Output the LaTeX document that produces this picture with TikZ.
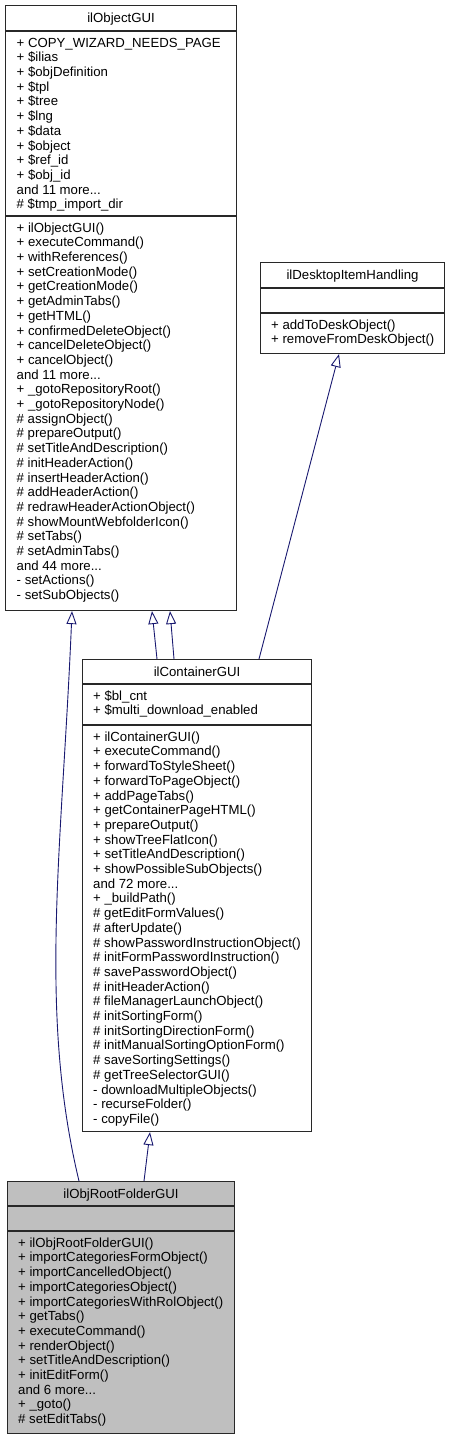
\documentclass[tikz,border=0pt]{standalone}
\usepackage{fontspec}
\setmainfont{Liberation Sans}
\usetikzlibrary{arrows.meta}
\definecolor{edgeblue}{RGB}{25,25,112}
\definecolor{boxline}{RGB}{40,40,40}
\definecolor{rootgrey}{RGB}{191,191,191}
\newcommand{\memfont}{\fontsize{13.2}{14.7}\selectfont}

\begin{document}
\begin{tikzpicture}[x=1pt,y=-1pt,
  cls/.style={draw=boxline,line width=1.1pt,anchor=north west,inner sep=0pt},
  clsname/.style={anchor=base,inner sep=0pt,font=\memfont},
  member/.style={anchor=north west,inner sep=0pt,align=left,font=\memfont},
  divider/.style={draw=boxline,line width=1.1pt},
  inherit/.style={draw=edgeblue,line width=0.9pt,-{Triangle[open,fill=white,length=13pt,width=10pt]}}]
\useasboundingbox (0,0) rectangle (450,1439);

\node[cls,minimum width=231pt,minimum height=605pt] (obj) at (5,5) {};
\node[cls,minimum width=184pt,minimum height=91pt] (desk) at (260,262) {};
\node[cls,minimum width=229pt,minimum height=472pt] (cont) at (82,659) {};
\node[cls,fill=rootgrey,minimum width=227pt,minimum height=252pt] (root) at (7,1181) {};

\draw[divider] (obj.west |- 0,31) -- (obj.east |- 0,31);
\draw[divider] (obj.west |- 0,216) -- (obj.east |- 0,216);
\draw[divider] (desk.west |- 0,288) -- (desk.east |- 0,288);
\draw[divider] (desk.west |- 0,313) -- (desk.east |- 0,313);
\draw[divider] (cont.west |- 0,684) -- (cont.east |- 0,684);
\draw[divider] (cont.west |- 0,725) -- (cont.east |- 0,725);
\draw[divider] (root.west |- 0,1206) -- (root.east |- 0,1206);
\draw[divider] (root.west |- 0,1231) -- (root.east |- 0,1231);

\node[clsname] (obj-name) at (obj.north |- 0,22.7) {ilObjectGUI};
\node[member] (obj-attr) at (16.5,36.7) {\strut + COPY\_WIZARD\_NEEDS\_PAGE\\
+ \$ilias\\
+ \$objDefinition\\
+ \$tpl\\
+ \$tree\\
+ \$lng\\
+ \$data\\
+ \$object\\
+ \$ref\_id\\
+ \$obj\_id\\
and 11 more...\\
\# \$tmp\_import\_dir};
\node[member] (obj-meth) at (16.5,221.7) {\strut + ilObjectGUI()\\
+ executeCommand()\\
+ withReferences()\\
+ setCreationMode()\\
+ getCreationMode()\\
+ getAdminTabs()\\
+ getHTML()\\
+ confirmedDeleteObject()\\
+ cancelDeleteObject()\\
+ cancelObject()\\
and 11 more...\\
+ \_gotoRepositoryRoot()\\
+ \_gotoRepositoryNode()\\
\# assignObject()\\
\# prepareOutput()\\
\# setTitleAndDescription()\\
\# initHeaderAction()\\
\# insertHeaderAction()\\
\# addHeaderAction()\\
\# redrawHeaderActionObject()\\
\# showMountWebfolderIcon()\\
\# setTabs()\\
\# setAdminTabs()\\
and 44 more...\\
- setActions()\\
- setSubObjects()};

\node[clsname] (desk-name) at (desk.north |- 0,279.7) {ilDesktopItemHandling};
\node[member] (desk-meth) at (271,318.7) {\strut + addToDeskObject()\\
+ removeFromDeskObject()};

\node[clsname] (cont-name) at (cont.north |- 0,676) {ilContainerGUI};
\node[member] (cont-attr) at (93,689.7) {\strut + \$bl\_cnt\\
+ \$multi\_download\_enabled};
\node[member] (cont-meth) at (93,730.7) {\strut + ilContainerGUI()\\
+ executeCommand()\\
+ forwardToStyleSheet()\\
+ forwardToPageObject()\\
+ addPageTabs()\\
+ getContainerPageHTML()\\
+ prepareOutput()\\
+ showTreeFlatIcon()\\
+ setTitleAndDescription()\\
+ showPossibleSubObjects()\\
and 72 more...\\
+ \_buildPath()\\
\# getEditFormValues()\\
\# afterUpdate()\\
\# showPasswordInstructionObject()\\
\# initFormPasswordInstruction()\\
\# savePasswordObject()\\
\# initHeaderAction()\\
\# fileManagerLaunchObject()\\
\# initSortingForm()\\
\# initSortingDirectionForm()\\
\# initManualSortingOptionForm()\\
\# saveSortingSettings()\\
\# getTreeSelectorGUI()\\
- downloadMultipleObjects()\\
- recurseFolder()\\
- copyFile()};

\node[clsname] (root-name) at (root.north |- 0,1198) {ilObjRootFolderGUI};
\node[member] (root-meth) at (18,1236.7) {\strut + ilObjRootFolderGUI()\\
+ importCategoriesFormObject()\\
+ importCancelledObject()\\
+ importCategoriesObject()\\
+ importCategoriesWithRolObject()\\
+ getTabs()\\
+ executeCommand()\\
+ renderObject()\\
+ setTitleAndDescription()\\
+ initEditForm()\\
and 6 more...\\
+ \_goto()\\
\# setEditTabs()};

\coordinate (root-l) at ([xshift=72pt]root.north west);
\coordinate (root-r) at ([xshift=137pt]root.north west);
\coordinate (obj-l) at ([xshift=67pt]obj.south west);
\coordinate (obj-m) at ([xshift=147pt]obj.south west);
\coordinate (obj-r) at ([xshift=165pt]obj.south west);
\coordinate (cont-b) at ([xshift=68pt]cont.south west);
\coordinate (cont-l) at ([xshift=75pt]cont.north west);
\coordinate (cont-m) at ([xshift=92pt]cont.north west);
\coordinate (cont-r) at ([xshift=177pt]cont.north west);
\coordinate (desk-b) at ([xshift=79pt]desk.south west);

\draw[inherit] (root-l) .. controls (38,1010) and (62,850) .. (obj-l);
\foreach \from/\to in {root-r/cont-b,cont-l/obj-m,cont-m/obj-r,cont-r/desk-b}
  \draw[inherit] (\from) -- (\to);
\end{tikzpicture}
\end{document}
